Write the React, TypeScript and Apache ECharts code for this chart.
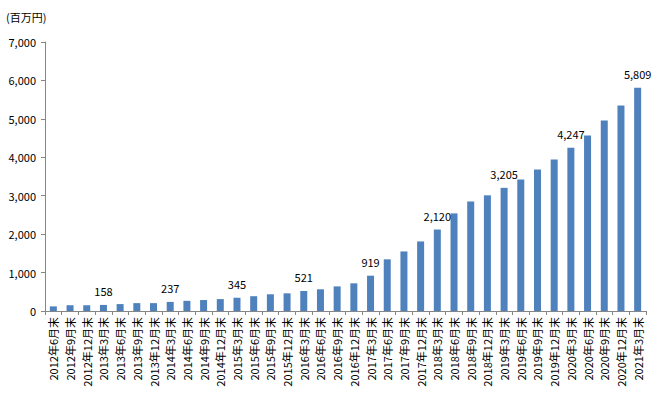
import React, { useEffect, useRef } from "react";
import * as echarts from "echarts";

const categories: string[] = [
  "2012年6月末", "2012年9月末", "2012年12月末",
  "2013年3月末", "2013年6月末", "2013年9月末", "2013年12月末",
  "2014年3月末", "2014年6月末", "2014年9月末", "2014年12月末",
  "2015年3月末", "2015年6月末", "2015年9月末", "2015年12月末",
  "2016年3月末", "2016年6月末", "2016年9月末", "2016年12月末",
  "2017年3月末", "2017年6月末", "2017年9月末", "2017年12月末",
  "2018年3月末", "2018年6月末", "2018年9月末", "2018年12月末",
  "2019年3月末", "2019年6月末", "2019年9月末", "2019年12月末",
  "2020年3月末", "2020年6月末", "2020年9月末", "2020年12月末",
  "2021年3月末",
];

const values: number[] = [
  120, 150, 150,
  158, 180, 205, 205,
  237, 265, 285, 310,
  345, 385, 435, 460,
  521, 565, 640, 720,
  919, 1345, 1550, 1810,
  2120, 2540, 2850, 3010,
  3205, 3425, 3685, 3945,
  4247, 4570, 4960, 5350,
  5809,
];

// Only March-end values carry a label
const labeledCategories: string[] = categories.filter((c) => c.includes("年3月末"));

const unitLabel = "(百万円)";
const fontFamily = "'Noto Sans CJK JP', 'Noto Sans', sans-serif";

export default function App() {
  const ref = useRef<HTMLDivElement>(null);

  useEffect(() => {
    if (!ref.current) return;
    const chart = echarts.init(ref.current, undefined, { renderer: "svg" });
    const fmt = (v: number) => v.toLocaleString("en-US");
    chart.setOption({
      animation: false,
      textStyle: { fontFamily },
      grid: { left: 45, right: 14, top: 42, bottom: 86, containLabel: false },
      graphic: [
        {
          type: "text",
          left: 6,
          top: 11,
          style: { text: unitLabel, fontSize: 11, fill: "#000", fontFamily },
        },
      ],
      xAxis: {
        type: "category",
        data: categories,
        boundaryGap: true,
        axisLine: { show: true, lineStyle: { color: "#868686" } },
        axisTick: { show: true, length: 4, alignWithLabel: false, lineStyle: { color: "#868686" } },
        axisLabel: {
          interval: 0,
          rotate: 90,
          fontSize: 11,
          color: "#000",
          margin: 6,
          fontFamily,
        },
        splitLine: { show: false },
      },
      yAxis: {
        type: "value",
        min: 0,
        max: 7000,
        interval: 1000,
        axisLine: { show: true, lineStyle: { color: "#868686" } },
        axisTick: { show: true, length: 4, lineStyle: { color: "#868686" } },
        splitLine: { show: false },
        axisLabel: {
          fontSize: 11,
          color: "#000",
          margin: 9,
          fontFamily,
          formatter: (v: number) => fmt(v),
        },
      },
      series: [
        {
          type: "bar",
          data: values,
          barWidth: 7,
          itemStyle: { color: "#4F81BD" },
          label: {
            show: true,
            position: "top",
            distance: 8,
            fontSize: 11,
            color: "#000",
            fontFamily,
            formatter: (p: any) =>
              labeledCategories.includes(p.name) ? fmt(p.value) : "",
          },
        },
      ],
    });
    return () => chart.dispose();
  }, []);

  return (
    <div
      ref={ref}
      style={{ position: "absolute", left: 0, top: 0, width: 660, height: 397, background: "#fff" }}
    />
  );
}
